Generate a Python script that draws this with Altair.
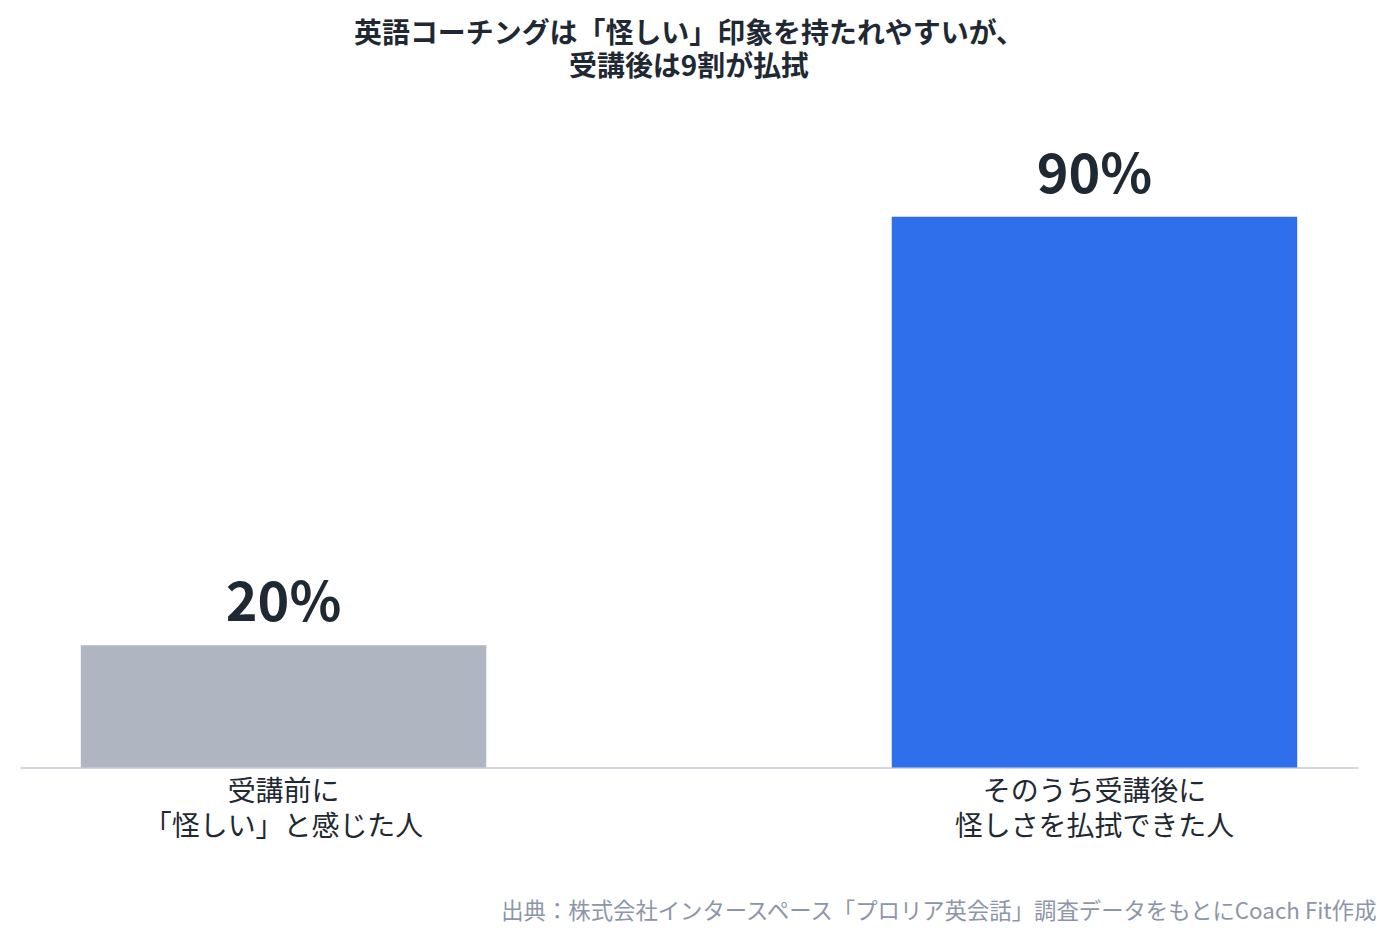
import altair as alt
import pandas as pd

categories = ["受講前に\n「怪しい」と感じた人", "そのうち受講後に\n怪しさを払拭できた人"]
values = [20, 90]
bar_colors = ["#AFB5C1", "#2F6FEB"]
title_lines = ["英語コーチングは「怪しい」印象を持たれやすいが、", "受講後は9割が払拭"]
source_note = "出典：株式会社インタースペース「プロリア英会話」調査データをもとにCoach Fit作成"

font = "Noto Sans CJK JP"

df = pd.DataFrame({"cat": categories, "value": values})
df["label"] = df["value"].astype(str) + "%"

x_enc = alt.X(
    "cat:N",
    sort=categories,
    scale=alt.Scale(paddingInner=0.5, paddingOuter=0.075),
    axis=alt.Axis(
        title=source_note,
        titleFont=font,
        titleFontSize=22.4,
        titleFontWeight="normal",
        titleColor="#8D96A8",
        titleAnchor="end",
        titleAlign="right",
        titleBaseline="middle",
        titleX=1358,
        titleY=144,
        labelExpr="split(datum.label, '\\n')",
        labelFont=font,
        labelFontSize=28,
        labelColor="#1F2933",
        labelLineHeight=35,
        labelPadding=11,
        labelLimit=0,
        labelAngle=0,
        domainColor="#D3D7E1",
        domainWidth=2,
        ticks=False,
    ),
)
y_enc = alt.Y("value:Q", scale=alt.Scale(domain=[0, 100]), axis=None)

bars = alt.Chart(df).mark_bar().encode(
    x=x_enc,
    y=y_enc,
    color=alt.Color("cat:N", scale=alt.Scale(domain=categories, range=bar_colors), legend=None),
)

labels = alt.Chart(df).mark_text(
    font=font, fontSize=54, fontWeight="bold", color="#1F2933", baseline="alphabetic", dy=-24
).encode(x=alt.X("cat:N", sort=categories), y=y_enc, text="label:N")

chart = (
    alt.layer(bars, labels)
    .properties(
        width=1340,
        height=613,
        autosize=alt.AutoSizeParams(type="none"),
        padding={"left": 12, "top": 147, "right": 30, "bottom": 170},
        title=alt.TitleParams(
            title_lines,
            font=font,
            fontSize=28,
            fontWeight="bold",
            color="#1F2933",
            lineHeight=33,
            anchor="middle",
            offset=68,
        ),
    )
    .configure(background="white")
    .configure_view(strokeWidth=0, stroke="transparent")
)

chart.save("out.html", embed_options={"renderer": "svg", "actions": False})
